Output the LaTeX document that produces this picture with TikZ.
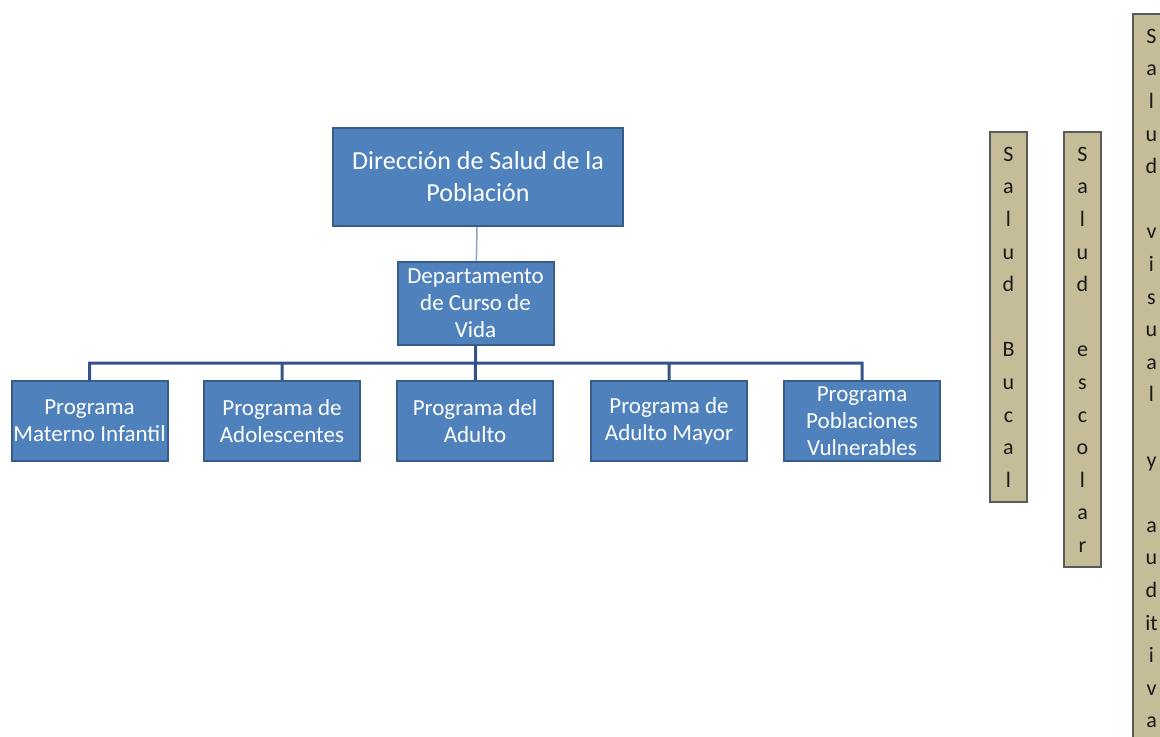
\documentclass[tikz,border=0pt]{standalone}
\usepackage{fontspec}
\setmainfont{Carlito}
\usepackage{tikz}
\usetikzlibrary{positioning}
\definecolor{boxblue}{RGB}{79,129,189}
\definecolor{boxedge}{RGB}{56,93,138}
\definecolor{busblue}{RGB}{52,84,136}
\definecolor{linkgrey}{RGB}{140,165,200}
\definecolor{boxtan}{RGB}{196,189,151}
\definecolor{tanedge}{RGB}{90,90,90}

\begin{document}
\begin{tikzpicture}[x=0.5pt, y=-0.5pt,
    unitbox/.style={draw=boxedge, line width=1pt, fill=boxblue, text=white, align=center, inner sep=0pt},
    prog/.style={unitbox, minimum width=78pt, minimum height=40pt, font=\fontsize{11.5}{13.5}\selectfont},
    colbox/.style={draw=tanedge, line width=1pt, fill=boxtan, text=black!90, align=center, anchor=north,
        minimum width=18.5pt, inner xsep=0pt, inner ysep=7.5pt, font=\fontsize{11}{16.3}\selectfont},
    busline/.style={draw=busblue, line width=1.5pt}]
                        \useasboundingbox (0,0) rectangle (1160,736);
                        \node[unitbox, minimum width=145pt, minimum height=49pt, font=\fontsize{13}{16}\selectfont] (dir) at (478, 177) {Dirección de Salud de la\\Población};
                        \node[prog, minimum height=41.5pt] (dcv) at (475.5, 303.5) {Departamento\\de Curso de\\Vida};
                        \coordinate (bus) at (475.5, 363);
                        \node[prog] (pmi) at (89.5, 421) {Programa\\Materno Infantil};
                        \node[prog] (pad) at (282, 421) {Programa de\\Adolescentes};
                        \node[prog] (pdel) at (475, 421) {Programa del\\Adulto};
                        \node[prog] (pam) at (669, 421) {Programa de\\Adulto Mayor};
                        \node[prog] (ppv) at (862, 421) {Programa\\Poblaciones\\Vulnerables};
                        \node[colbox] (sb) at (1008.5, 131) {S\\a\\l\\u\\d\\~\\B\\u\\c\\a\\l};
                        \node[colbox] (se) at (1082.5, 131) {S\\a\\l\\u\\d\\~\\e\\s\\c\\o\\l\\a\\r};
                        \node[colbox] (sva) at (1151.5, 13) {S\\a\\l\\u\\d\\~\\v\\i\\s\\u\\a\\l\\~\\y\\~\\a\\u\\d\\it\\i\\v\\a};
                        \draw[linkgrey, line width=0.75pt] (dir) -- (dcv);
                        \draw[busline]
                        (dcv) -- (bus)
                        (bus) -| (pmi)
                        (bus) -| (pad)
                        (bus) -- (pdel)
                        (bus) -| (pam)
                        (bus) -| (ppv);
                    \end{tikzpicture}
\end{document}
